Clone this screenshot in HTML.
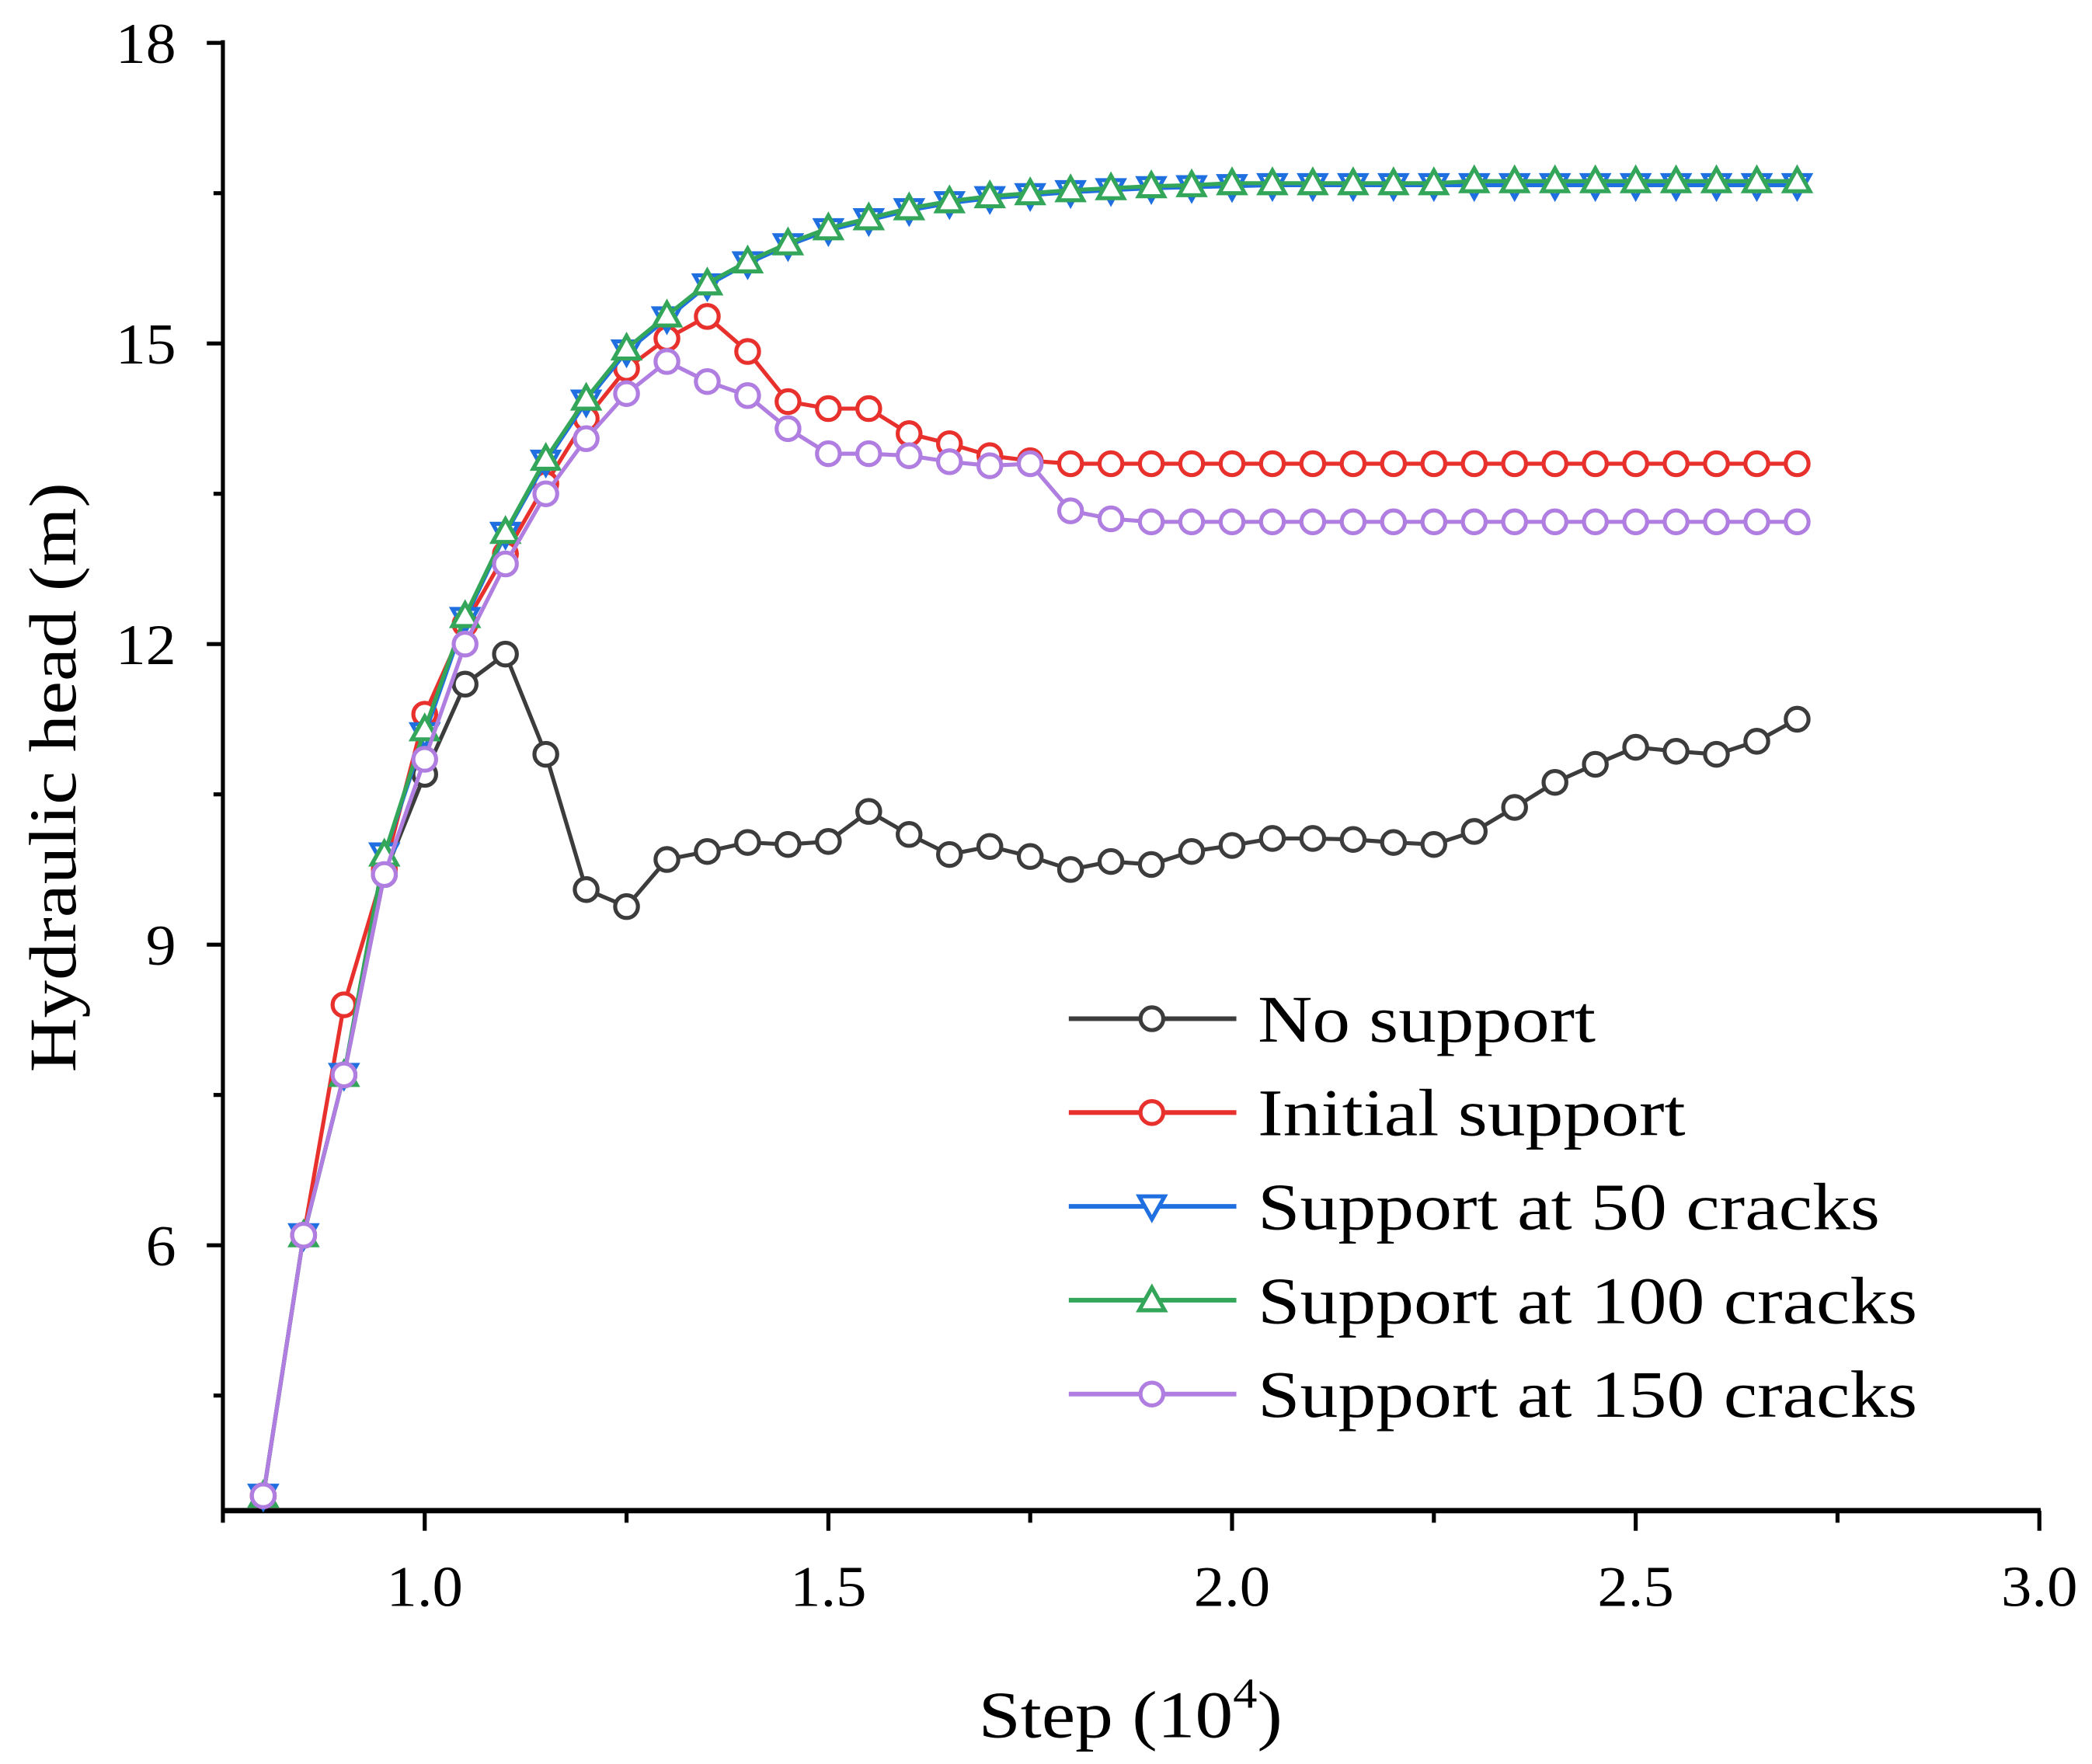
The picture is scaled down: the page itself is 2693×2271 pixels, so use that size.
<!DOCTYPE html>
<html><head><meta charset="utf-8"><style>
html,body{margin:0;padding:0;background:#fff}
svg{display:block}
text{font-family:"Liberation Serif",serif;fill:#000}
</style></head><body>
<svg id="chart" width="2693" height="2271" viewBox="0 0 1560 1316" xmlns="http://www.w3.org/2000/svg">
<g id="axes"></g>
<g id="series"></g>
<g id="legend"></g>
</svg>
<script>
const steps = [0.8,0.85,0.9,0.95,1.0,1.05,1.1,1.15,1.2,1.25,1.3,1.35,1.4,1.45,1.5,1.55,1.6,1.65,1.7,1.75,1.8,1.85,1.9,1.95,2.0,2.05,2.1,2.15,2.2,2.25,2.3,2.35,2.4,2.45,2.5,2.55,2.6,2.65,2.7];
const noSupport = [3.5,6.1,7.7,9.7,10.7,11.6,11.9,10.9,9.55,9.38,9.85,9.93,10.02,10.0,10.03,10.33,10.1,9.9,9.98,9.88,9.75,9.83,9.8,9.93,9.99,10.06,10.06,10.05,10.02,10.0,10.13,10.37,10.62,10.8,10.97,10.93,10.9,11.03,11.25];
const initialSupport = [3.5,6.1,8.4,9.75,11.3,12.2,12.9,13.6,14.25,14.75,15.05,15.27,14.92,14.42,14.35,14.35,14.1,14.0,13.88,13.83,13.8,13.8,13.8,13.8,13.8,13.8,13.8,13.8,13.8,13.8,13.8,13.8,13.8,13.8,13.8,13.8,13.8,13.8,13.8];
const support50 = [3.5,6.1,7.7,9.9,11.1,12.25,13.1,13.82,14.42,14.92,15.25,15.58,15.8,15.98,16.13,16.23,16.33,16.4,16.45,16.48,16.51,16.53,16.55,16.56,16.57,16.58,16.58,16.58,16.58,16.58,16.58,16.58,16.58,16.58,16.58,16.58,16.58,16.58,16.58];
const support100 = [3.5,6.1,7.7,9.9,11.15,12.28,13.12,13.85,14.45,14.95,15.28,15.6,15.82,16.0,16.15,16.25,16.35,16.42,16.47,16.5,16.53,16.55,16.57,16.58,16.6,16.6,16.6,16.6,16.6,16.6,16.62,16.62,16.62,16.62,16.62,16.62,16.62,16.62,16.62];
const support150 = [3.5,6.1,7.7,9.7,10.85,12.0,12.8,13.5,14.05,14.5,14.82,14.62,14.48,14.15,13.9,13.9,13.88,13.82,13.78,13.8,13.33,13.25,13.22,13.22,13.22,13.22,13.22,13.22,13.22,13.22,13.22,13.22,13.22,13.22,13.22,13.22,13.22,13.22,13.22];
const xTickLabels = ["1.0","1.5","2.0","2.5","3.0"];
const yTickLabels = ["6","9","12","15","18"];
const seriesNames = ["No support","Initial support","Support at 50 cracks","Support at 100 cracks","Support at 150 cracks"];

const NS="http://www.w3.org/2000/svg";
const X0=0.75,X1=3.0,PX0=166,PX1=1521;
const Y18=32,PerUnit=74.75,PYB=1127;
function xs(v){return PX0+(v-X0)/(X1-X0)*(PX1-PX0);}
function ys(v){return Y18+(18-v)*PerUnit;}
function mk(tag,attrs,parent){const e=document.createElementNS(NS,tag);for(const k in attrs)e.setAttribute(k,attrs[k]);parent.appendChild(e);return e;}

const axes=document.getElementById('axes');
let l=mk('line',{x1:PX0,y1:Y18-2,x2:PX0,y2:PYB,stroke:'#000','stroke-width':3},axes);


l=mk('line',{x1:PX0-1,y1:PYB,x2:PX1+1,y2:PYB,stroke:'#000','stroke-width':4},axes);


yTickLabels.forEach(s=>{const v=parseFloat(s);const y=ys(v);
  const t=mk('line',{x1:PX0-12,y1:y,x2:PX0,y2:y,stroke:'#000','stroke-width':3},axes);
  
  
  const m=mk('line',{x1:PX0-7,y1:ys(v-1.5),x2:PX0,y2:ys(v-1.5),stroke:'#000','stroke-width':3},axes);
  
  
  const tx=mk('text',{x:131,y:y+15,'text-anchor':'end','font-size':43,textLength:s.length*22.5,lengthAdjust:'spacingAndGlyphs'},axes);tx.textContent=s;
  
  
});
xTickLabels.forEach(s=>{const v=parseFloat(s);const x=xs(v);
  const t=mk('line',{x1:x,y1:PYB,x2:x,y2:PYB+15,stroke:'#000','stroke-width':3},axes);
  
  
  const m=mk('line',{x1:xs(v-0.25),y1:PYB,x2:xs(v-0.25),y2:PYB+9,stroke:'#000','stroke-width':3},axes);
  
  
  const tx=mk('text',{x:x,y:1198,'text-anchor':'middle','font-size':43,textLength:57,lengthAdjust:'spacingAndGlyphs'},axes);tx.textContent=s;
  
  
});
let yt=mk('text',{x:0,y:0,'text-anchor':'middle','font-size':50,textLength:440,lengthAdjust:'spacingAndGlyphs',transform:'translate(56,580) rotate(-90)'},axes);
yt.textContent='Hydraulic head (m)';


let xt=mk('text',{x:0,y:0,'text-anchor':'middle','font-size':50,transform:'translate(843,1296) scale(1.13,1)'},axes);
xt.innerHTML='Step (10<tspan dy="-22" font-size="32">4</tspan><tspan dy="22">)</tspan>';



function marker(shape,x,y,color,parent){
  let e;
  if(shape==='circle') e=mk('circle',{cx:x,cy:y,r:8.5,fill:'#fff',stroke:color,'stroke-width':3},parent);
  else if(shape==='down') e=mk('polygon',{points:`${x-9.5},${y-7.5} ${x+9.5},${y-7.5} ${x},${y+9.5}`,fill:'#fff',stroke:color,'stroke-width':3},parent);
  else e=mk('polygon',{points:`${x-9.5},${y+7.5} ${x+9.5},${y+7.5} ${x},${y-9.5}`,fill:'#fff',stroke:color,'stroke-width':3},parent);
  return e;
}
const seriesVals=[noSupport,initialSupport,support50,support100,support150];
const colors=['#3c3c3c','#e8302d','#1f6fe0','#33a65a','#b07ee0'];
const shapes=['circle','circle','down','up','circle'];
const ids=['no-support','initial-support','support-50-cracks','support-100-cracks','support-150-cracks'];
const sg=document.getElementById('series');
seriesVals.forEach((vals,i)=>{
  const g=mk('g',{},sg);
  
  
  const pts=vals.map((v,j)=>xs(steps[j])+','+ys(v)).join(' ');
  const pl=mk('polyline',{points:pts,fill:'none',stroke:colors[i],'stroke-width':3},g);
  
  
  vals.forEach((v,j)=>{const m=marker(shapes[i],xs(steps[j]),ys(v),colors[i],g);
    
    });
});
const legendWidths=[252,319,464,492,492];
const lg=document.getElementById('legend');
seriesNames.forEach((n,i)=>{const y=760+i*70;
  const g=mk('g',{},lg);
  
  
  mk('line',{x1:797,y1:y,x2:922,y2:y,stroke:colors[i],'stroke-width':3.5},g);
  marker(shapes[i],859,y,colors[i],g);
  const t=mk('text',{x:938,y:y+17,'font-size':50,textLength:legendWidths[i],lengthAdjust:'spacingAndGlyphs'},g);t.textContent=n;
  
  
});
</script>
</body></html>
